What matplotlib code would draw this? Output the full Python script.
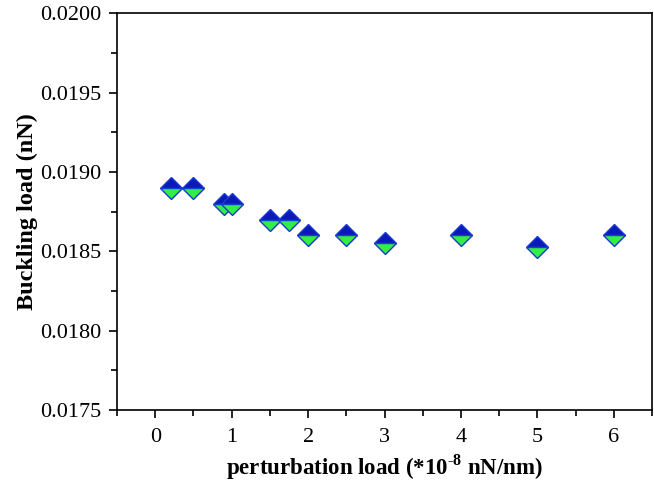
import matplotlib
matplotlib.use("Agg")
import matplotlib.pyplot as plt
from matplotlib.ticker import MultipleLocator, FormatStrFormatter

perturbation = [0.2, 0.5, 0.9, 1.0, 1.5, 1.75, 2.0, 2.5, 3.0, 4.0, 5.0, 6.0]
buckling = [0.0189, 0.0189, 0.0188, 0.0188, 0.0187, 0.0187, 0.0186, 0.0186,
            0.01855, 0.0186, 0.01853, 0.0186]

plt.rcParams['font.family'] = ['Liberation Serif', 'DejaVu Serif']
plt.rcParams['mathtext.fontset'] = 'custom'
plt.rcParams['mathtext.rm'] = 'Liberation Serif'
plt.rcParams['mathtext.bf'] = 'Liberation Serif:bold'

fig = plt.figure(figsize=(6.54, 4.87), dpi=100)
ax = fig.add_axes([0.179, 0.158, 0.818, 0.815])

ax.plot(perturbation, buckling, linestyle='none', marker='D', markersize=11,
        fillstyle='top', markerfacecolor='#0a1ab8', markerfacecoloralt='#33ee44',
        markeredgecolor='#1a3ad0', markeredgewidth=1.0)

ax.set_xlim(-0.5, 6.5)
ax.set_ylim(0.0175, 0.0200)
ax.xaxis.set_major_locator(MultipleLocator(1))
ax.xaxis.set_minor_locator(MultipleLocator(0.5))
ax.yaxis.set_major_locator(MultipleLocator(0.0005))
ax.yaxis.set_minor_locator(MultipleLocator(0.00025))
ax.yaxis.set_major_formatter(FormatStrFormatter('%.4f'))

ax.tick_params(which='major', direction='out', length=6, width=1.2, labelsize=16, pad=5)
ax.tick_params(axis='x', which='major', pad=7)
ax.tick_params(which='minor', direction='out', length=4, width=1.2)
for s in ax.spines.values():
    s.set_linewidth(1.2)

ax.set_xlabel(r'perturbation load (*10$^{\mathbf{\text{-}8}}$ nN/nm)', fontsize=16.5,
              fontweight='bold', labelpad=4)
ax.set_ylabel('Buckling load (nN)', fontsize=17.5, fontweight='bold', labelpad=2)

fig.savefig('out.png', dpi=100)
